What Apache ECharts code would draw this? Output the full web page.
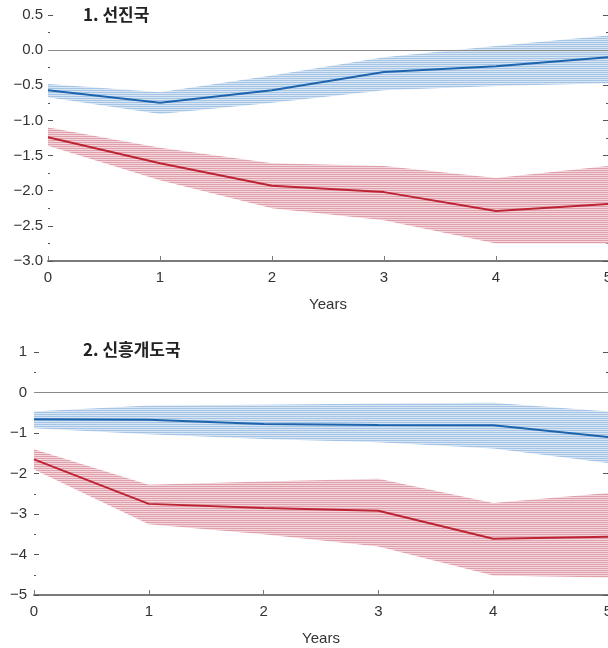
<!DOCTYPE html>
<html>
<head>
<meta charset="utf-8">
<script src="https://cdn.jsdelivr.net/npm/echarts@6/dist/echarts.min.js"></script>
<style>
  html, body { margin: 0; padding: 0; background: #fff; }
  #chart { width: 608px; height: 648px; }
</style>
</head>
<body>
<div id="chart"></div>
<script>
// x 값 (년)
const years = [0, 1, 2, 3, 4, 5]

// 1. 선진국
const advBlue = [-0.57, -0.75, -0.57, -0.31, -0.23, -0.10]
const advBlueUpper = [-0.48, -0.60, -0.36, -0.10, 0.06, 0.21]
const advBlueLower = [-0.67, -0.91, -0.75, -0.57, -0.51, -0.47]
const advRed = [-1.24, -1.61, -1.93, -2.02, -2.29, -2.19]
const advRedUpper = [-1.10, -1.39, -1.61, -1.65, -1.82, -1.65]
const advRedLower = [-1.36, -1.85, -2.25, -2.42, -2.75, -2.75]

// 2. 신흥개도국
const emBlue = [-0.66, -0.67, -0.78, -0.80, -0.81, -1.10]
const emBlueUpper = [-0.47, -0.32, -0.30, -0.27, -0.25, -0.47]
const emBlueLower = [-0.88, -1.03, -1.15, -1.23, -1.38, -1.74]
const emRed = [-1.65, -2.75, -2.85, -2.92, -3.61, -3.56]
const emRedUpper = [-1.40, -2.28, -2.20, -2.13, -2.73, -2.48]
const emRedLower = [-1.90, -3.25, -3.50, -3.80, -4.52, -4.57]

const BLUE = '#1c64ad'
const RED = '#bd2433'

// 가로 줄무늬 패턴
const stripe = (c1, c2) => {
  const cv = document.createElement('canvas')
  cv.width = 4
  cv.height = 2
  const ctx = cv.getContext('2d')
  ctx.fillStyle = c2
  ctx.fillRect(0, 0, 4, 2)
  ctx.fillStyle = c1
  ctx.fillRect(0, 0, 4, 1)
  return { image: cv, repeat: 'repeat' }
}
const blueFill = stripe('#a6c4e6', '#d8e6f4')
const redFill = stripe('#e0a0ab', '#f3d6db')

const pairs = (ys) => years.map((x, i) => [x, ys[i]])

// 신뢰구간 밴드 (polygon 한 개)
const band = (gi, upper, lower, fill) => ({
  type: 'custom',
  xAxisIndex: gi,
  yAxisIndex: gi * 2,
  silent: true,
  z: 2,
  data: years.map((x, i) => [x, upper[i], lower[i]]),
  renderItem: (params, api) => {
    if (params.dataIndex !== 0) return null
    const pts = []
    years.forEach((x, i) => pts.push(api.coord([x, upper[i]])))
    for (let i = years.length - 1; i >= 0; i--) pts.push(api.coord([years[i], lower[i]]))
    return {
      type: 'polygon',
      shape: { points: pts },
      style: { fill: fill }
    }
  },
  encode: { x: 0, y: [1, 2] }
})

const zeroLine = (gi) => ({
  type: 'line',
  xAxisIndex: gi,
  yAxisIndex: gi * 2,
  symbol: 'none',
  lineStyle: { opacity: 0 },
  silent: true,
  z: 1,
  data: [],
  markLine: {
    silent: true,
    symbol: 'none',
    label: { show: false },
    lineStyle: { color: '#8a8a8a', width: 1, type: 'solid' },
    data: [{ yAxis: 0 }]
  }
})

const line = (gi, ys, color) => ({
  type: 'line',
  xAxisIndex: gi,
  yAxisIndex: gi * 2,
  symbol: 'none',
  lineStyle: { color: color, width: 2 },
  z: 5,
  data: pairs(ys)
})

const xAxis = (gi) => ({
  type: 'value',
  gridIndex: gi,
  min: 0,
  max: 5,
  interval: 1,
  name: 'Years',
  nameLocation: 'middle',
  nameGap: 36,
  nameTextStyle: { color: '#333', fontSize: 15, fontFamily: 'Liberation Sans' },
  axisLine: { show: true, onZero: false, lineStyle: { color: '#7a7a7a', width: 2 } },
  axisTick: { show: true, inside: true, length: 5, lineStyle: { color: '#7a7a7a', width: 1 } },
  axisLabel: { color: '#333', fontSize: 15, margin: 9, fontFamily: 'Liberation Sans' },
  splitLine: { show: false }
})

const fmtMinus = (dec) => (v) => {
  const s = Math.abs(v).toFixed(dec)
  return v < 0 ? '\u2212' + s : s
}

const yAxes = (gi, min, max, interval, dec, margin) => [
  {
    type: 'value',
    gridIndex: gi,
    min: min,
    max: max,
    interval: interval,
    axisLine: { show: false },
    axisTick: { show: true, inside: true, length: 5, lineStyle: { color: '#555' } },
    minorTick: { show: true, splitNumber: 2, length: 2, lineStyle: { color: '#555' } },
    axisLabel: { color: '#333', fontSize: 15, margin: margin, fontFamily: 'Liberation Sans', formatter: fmtMinus(dec) },
    splitLine: { show: false }
  },
  {
    type: 'value',
    gridIndex: gi,
    position: 'right',
    min: min,
    max: max,
    interval: interval,
    axisLine: { show: false },
    axisTick: { show: true, inside: true, length: 5, lineStyle: { color: '#555' } },
    minorTick: { show: true, splitNumber: 2, length: 2, lineStyle: { color: '#555' } },
    axisLabel: { show: false },
    splitLine: { show: false }
  }
]

const titleStyle = { fontSize: 17, fontWeight: 'bold', color: '#222', fontFamily: 'Noto Sans CJK KR' }

const myChart = echarts.init(document.getElementById('chart'))

const option = {
  animation: false,
  backgroundColor: '#fff',
  title: [
    { text: '1. 선진국', left: 83, top: 6, padding: 0, textStyle: titleStyle },
    { text: '2. 신흥개도국', left: 83, top: 341, padding: 0, textStyle: titleStyle }
  ],
  grid: [
    { left: 48, right: 0, top: 15, height: 246, outerBoundsMode: 'none', containLabel: false },
    { left: 34, right: 0, top: 352, height: 243, outerBoundsMode: 'none', containLabel: false }
  ],
  xAxis: [xAxis(0), xAxis(1)],
  yAxis: [
    ...yAxes(0, -3, 0.5, 0.5, 1, 5),
    ...yAxes(1, -5, 1, 1, 0, 7)
  ],
  series: [
    zeroLine(0),
    band(0, advBlueUpper, advBlueLower, blueFill),
    band(0, advRedUpper, advRedLower, redFill),
    line(0, advBlue, BLUE),
    line(0, advRed, RED),
    zeroLine(1),
    band(1, emBlueUpper, emBlueLower, blueFill),
    band(1, emRedUpper, emRedLower, redFill),
    line(1, emBlue, BLUE),
    line(1, emRed, RED)
  ]
}

myChart.setOption(option)
</script>
</body>
</html>
